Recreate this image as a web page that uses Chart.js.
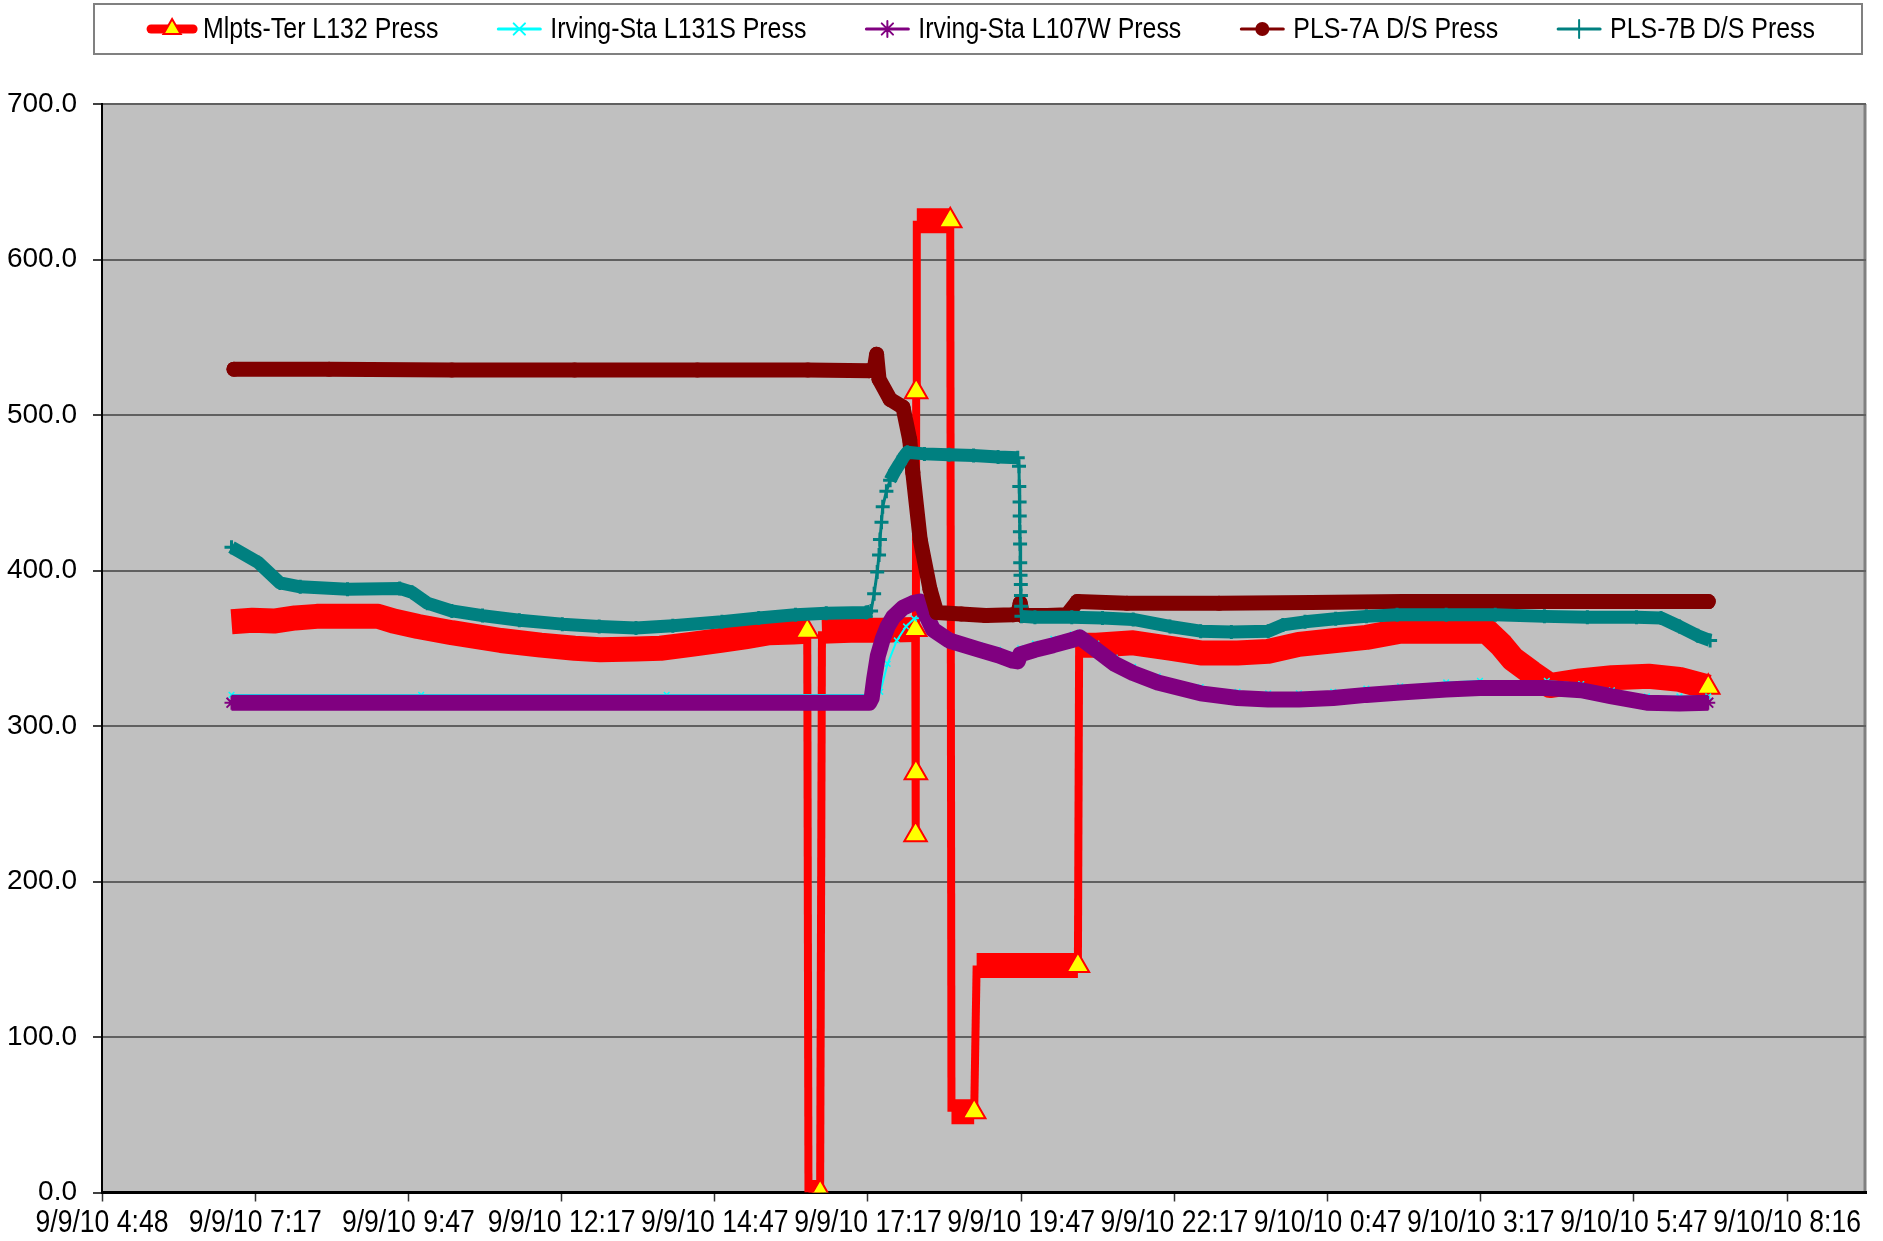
<!DOCTYPE html>
<html>
<head>
<meta charset="utf-8">
<title>Line pressures 9/9/10 - 9/10/10</title>
<script src="https://cdn.jsdelivr.net/npm/chart.js@4.4.0/dist/chart.umd.min.js"></script>
<style>
  body { margin: 0; background: #fff; }
  #chart { display: block; }
</style>
</head>
<body>
<canvas id="chart" width="1883" height="1241"></canvas>
<script>
// x values are hours since 9/9/10 0:00 (so 9/10/10 3:17 is about 27.3)
var xTickHours = [4.8, 7.296, 9.792, 12.288, 14.784, 17.28, 19.776, 22.272, 24.768, 27.264, 29.76, 32.256];
var xTickLabels = ['9/9/10 4:48', '9/9/10 7:17', '9/9/10 9:47', '9/9/10 12:17', '9/9/10 14:47', '9/9/10 17:17',
  '9/9/10 19:47', '9/9/10 22:17', '9/10/10 0:47', '9/10/10 3:17', '9/10/10 5:47', '9/10/10 8:16'];

var seriesNames = ['Mlpts-Ter L132 Press', 'Irving-Sta L131S Press', 'Irving-Sta L107W Press', 'PLS-7A D/S Press', 'PLS-7B D/S Press'];

// [hour, psi]
var mlptsTer = [[6.91,367],[7.25,368],[7.6,367.5],[7.95,369.5],[8.3,370.5],[8.8,370.5],[9.3,370.5],[9.55,367.5],[9.95,364],
  [10.5,360],[11.3,355],[11.95,352],[12.5,350],[12.92,349],[13.5,349.5],[13.9,350],[14.4,352.5],[14.88,355],[15.3,357.5],
  [15.67,360],[16.06,360.5],[16.29,361],[16.31,0],[16.5,0],[16.53,361],[17.0,361.5],[17.5,361.5],[18.05,362],
  [18.055,230],[18.06,270],[18.065,515],[18.075,625],[18.62,625],[18.64,52],[19.01,52],[19.05,146],[20.7,146],
  [20.72,352],[21.0,352],[21.6,353.5],[22.2,350],[22.7,347],[23.3,347],[23.8,348],[24.3,352.5],[24.9,355],[25.4,357],
  [25.95,361],[26.76,361],[27.36,361],[27.6,352],[27.79,343],[28.1,334],[28.39,326],[28.88,329],[29.4,331],[30.0,332],
  [30.5,330],[30.97,325]];

var irvingL131S = [[6.91,320],[10.0,320],[14.0,320],[17.3,320],[17.42,321],[17.48,322],[17.6,340],[17.75,355],[17.9,364],
  [18.03,369],[18.2,370],[18.3,366],[18.6,358],[19.1,352],[19.4,349],[19.64,346],[19.72,345],[19.76,350],[20.0,353],
  [20.3,356],[20.62,359],[20.73,360],[21.0,353],[21.3,344],[21.6,338],[22.0,332],[22.7,325],[23.3,322],[23.8,321],
  [24.3,321],[24.86,322],[25.4,324],[25.95,325.5],[26.7,328],[27.25,329],[28.34,329],[28.9,327],[29.4,323],[29.97,319],
  [30.5,319],[30.97,319]];

var irvingL107W = [[6.91,315],[10.0,315],[14.0,315],[17.3,315],[17.34,318],[17.38,330],[17.44,345],[17.52,356],[17.6,364],
  [17.69,370],[17.85,376],[18.01,379],[18.13,380],[18.22,372],[18.34,362],[18.6,355],[19.1,349],[19.4,345.5],[19.64,342],
  [19.72,341.5],[19.76,346],[20.0,349],[20.3,352],[20.62,355.5],[20.73,357],[21.0,349],[21.3,340],[21.6,334],[22.0,328],
  [22.7,321],[23.3,318],[23.8,317],[24.3,317],[24.86,318],[25.4,320],[25.95,321.5],[26.7,323.5],[27.25,324.5],[28.34,324.5],
  [28.9,323],[29.4,319],[29.97,315],[30.5,314.5],[30.97,315]];

var pls7A = [[6.95,529.5],[8.5,529.5],[10.5,529],[12.5,529],[14.5,529],[16.3,529],[17.3,528.5],[17.38,529],[17.42,539],
  [17.46,523],[17.64,510],[17.85,505],[17.96,484],[18.01,463],[18.13,420],[18.29,388],[18.4,373],[18.8,372],[19.2,371],
  [19.64,371.5],[19.72,372],[19.76,379],[19.8,371],[20.2,371],[20.52,371.5],[20.69,380],[21.5,379],[23.0,379],
  [24.5,379.5],[26.0,380],[27.5,380],[29.0,380],[30.97,380]];

var pls7B = [[6.91,415],[7.35,405],[7.7,392],[8.03,389.5],[8.8,388],[9.65,388.5],[9.85,386],[10.1,379],[10.5,374],[11.0,371],
  [11.6,368],[12.3,365.5],[12.9,364],[13.5,363],[14.1,364.5],[14.9,367],[15.5,369.5],[16.1,371.5],[16.6,372.5],[17.25,373],
  [17.33,374],[17.38,385],[17.43,399],[17.46,410],[17.475,420],[17.5,431],[17.52,441],[17.58,451],[17.64,458],[17.72,464],
  [17.8,469],[17.86,473],[17.92,476],[18.2,475],[18.6,474.5],[19.0,474],[19.4,473],[19.72,472.5],[19.74,467],[19.745,454],
  [19.75,444],[19.752,435],[19.755,425],[19.758,417],[19.76,405],[19.765,397],[19.77,391],[19.772,384],[19.775,377],
  [19.78,370.5],[20.0,370],[20.6,370],[21.1,369.5],[21.6,368.5],[22.2,364],[22.7,361],[23.2,360.5],[23.8,361],[24.04,365],
  [24.4,367],[24.9,369],[25.4,370.5],[25.9,371.5],[26.7,371.5],[27.5,371.5],[28.3,370.5],[29.0,370],[29.8,370],[30.2,369.5],
  [30.5,364],[30.8,358],[31.0,355]];

function pts(arr) { return arr.map(function(p) { return {x: p[0], y: p[1]}; }); }

// steep parts of the trace are drawn with a thin pen, flat runs get the fat band
function steep(ctx) {
  var dx = Math.abs(ctx.p1.x - ctx.p0.x), dy = Math.abs(ctx.p1.y - ctx.p0.y);
  return dy > 8 && dy > 2 * dx;
}

// the yellow triangle only shows where a run of readings ends
function runEnd(ctx) {
  var i = ctx.dataIndex;
  if (i === undefined) return 0;
  if (i == mlptsTer.length - 1) return 13;
  return Math.abs(mlptsTer[i + 1][1] - mlptsTer[i][1]) > 30 ? 13 : 0;
}

var sans = "'Liberation Sans', Arial, sans-serif";
// the excel export squeezes the axis / legend text sideways
var squeeze = 0.83;

var plotBg = {
  id: 'plotBg',
  beforeDraw: function(chart) {
    var a = chart.chartArea, c = chart.ctx;
    c.save();
    c.fillStyle = '#C0C0C0';
    c.fillRect(a.left, a.top, a.right - a.left, a.bottom - a.top);
    c.strokeStyle = '#808080';
    c.lineWidth = 3;
    c.beginPath();
    c.moveTo(a.right - 1, a.top);
    c.lineTo(a.right - 1, a.bottom);
    c.stroke();
    c.restore();
  }
};

// date labels under the x axis, drawn narrow
var xLabels = {
  id: 'xLabels',
  afterDraw: function(chart) {
    var c = chart.ctx, sx = chart.scales.x;
    c.save();
    c.font = '32px ' + sans;
    c.fillStyle = '#000';
    c.textAlign = 'center';
    c.textBaseline = 'middle';
    xTickLabels.forEach(function(lab, i) {
      c.save();
      c.translate(sx.getPixelForValue(xTickHours[i]), 1223);
      c.scale(squeeze, 1);
      c.fillText(lab, 0, 0);
      c.restore();
    });
    c.restore();
  }
};

var boxLegend = {
  id: 'boxLegend',
  afterDraw: function(chart) {
    var c = chart.ctx;
    c.save();
    c.strokeStyle = '#808080';
    c.lineWidth = 2;
    c.strokeRect(94, 4, 1768, 50);
    c.font = '30px ' + sans;
    c.textBaseline = 'middle';
    var sample = 50, gap = 6, between = 56, y = 29;
    var items = chart.data.datasets.map(function(ds) { return {ds: ds, w: c.measureText(ds.label).width * squeeze}; });
    var total = between * (items.length - 1);
    items.forEach(function(it) { total += sample + gap + it.w; });
    var x = 981 - total / 2;
    items.forEach(function(it) {
      var ds = it.ds;
      c.strokeStyle = ds.borderColor;
      c.lineWidth = ds.legendWidth;
      c.lineCap = 'round';
      c.beginPath();
      c.moveTo(x + 4, y);
      c.lineTo(x + sample - 4, y);
      c.stroke();
      c.fillStyle = ds.legendFill;
      c.strokeStyle = ds.pointBorderColor;
      c.lineWidth = ds.legendPointBorder;
      Chart.helpers.drawPoint(c, {pointStyle: ds.pointStyle, radius: ds.legendRadius, rotation: 0, borderWidth: ds.legendPointBorder}, x + sample / 2, y);
      c.fillStyle = '#000';
      c.save();
      c.translate(x + sample + gap, y + 1);
      c.scale(squeeze, 1);
      c.fillText(ds.label, 0, 0);
      c.restore();
      x += sample + gap + it.w + between;
    });
    c.restore();
  }
};

Chart.defaults.font.family = sans;
Chart.defaults.color = '#000';

var chart = new Chart('chart', {
  type: 'line',
  data: {
    datasets: [
      {
        label: seriesNames[0], data: pts(mlptsTer), order: 5,
        borderColor: '#FF0000', borderWidth: 25, borderCapStyle: 'butt', borderJoinStyle: 'round',
        segment: { borderWidth: function(ctx) { return steep(ctx) ? 8 : 25; } },
        pointStyle: 'triangle', pointRadius: runEnd, pointBackgroundColor: '#FFFF00',
        pointBorderColor: '#FF0000', pointBorderWidth: 2,
        legendWidth: 9, legendFill: '#FFFF00', legendRadius: 10, legendPointBorder: 2
      },
      {
        label: seriesNames[1], data: pts(irvingL131S), order: 4,
        borderColor: '#00FFFF', borderWidth: 2,
        pointStyle: 'crossRot', pointRadius: 4, pointBorderColor: '#00FFFF', pointBorderWidth: 1.5,
        legendWidth: 3, legendFill: '#00FFFF', legendRadius: 8, legendPointBorder: 2
      },
      {
        label: seriesNames[2], data: pts(irvingL107W), order: 3,
        borderColor: '#800080', borderWidth: 16, borderCapStyle: 'butt', borderJoinStyle: 'round',
        pointStyle: 'star', pointRadius: 7, pointBorderColor: '#800080', pointBorderWidth: 2,
        legendWidth: 3, legendFill: '#800080', legendRadius: 8, legendPointBorder: 2
      },
      {
        label: seriesNames[3], data: pts(pls7A), order: 2,
        borderColor: '#800000', borderWidth: 15, borderCapStyle: 'round', borderJoinStyle: 'round',
        pointStyle: 'circle', pointRadius: 7.5, pointBackgroundColor: '#800000', pointBorderColor: '#800000', pointBorderWidth: 0,
        legendWidth: 3, legendFill: '#800000', legendRadius: 7, legendPointBorder: 0
      },
      {
        label: seriesNames[4], data: pts(pls7B), order: 1,
        borderColor: '#008080', borderWidth: 13, borderCapStyle: 'butt', borderJoinStyle: 'round',
        segment: { borderWidth: function(ctx) { return steep(ctx) ? 3 : 13; } },
        pointStyle: 'cross', pointRadius: 7, pointBorderColor: '#008080', pointBorderWidth: 3,
        legendWidth: 3, legendFill: '#008080', legendRadius: 9, legendPointBorder: 2
      }
    ]
  },
  options: {
    responsive: false,
    animation: false,
    devicePixelRatio: 1,
    events: [],
    layout: { padding: { top: 104, right: 17, bottom: 0, left: 0 } },
    elements: { line: { tension: 0 } },
    plugins: {
      legend: { display: false },
      tooltip: { enabled: false }
    },
    scales: {
      x: {
        type: 'linear',
        min: 4.8,
        max: 33.54,
        afterFit: function(s) { s.height = 48.5; },
        afterBuildTicks: function(s) { s.ticks = xTickHours.map(function(v) { return {value: v}; }); },
        grid: { drawOnChartArea: false, drawTicks: true, tickLength: 9, tickColor: '#333', tickWidth: 1.5 },
        border: { color: '#000', width: 3 },
        ticks: { display: false }
      },
      y: {
        min: 0,
        max: 700,
        afterFit: function(s) { s.width = 102; },
        grid: { color: '#606060', lineWidth: 2, drawTicks: true, tickLength: 9, tickColor: '#000', tickWidth: 1.5 },
        border: { color: '#000', width: 2 },
        ticks: {
          stepSize: 100, padding: 16,
          font: { size: 28 },
          callback: function(v) { return v.toFixed(1); }
        }
      }
    }
  },
  plugins: [plotBg, xLabels, boxLegend]
});
</script>
</body>
</html>
